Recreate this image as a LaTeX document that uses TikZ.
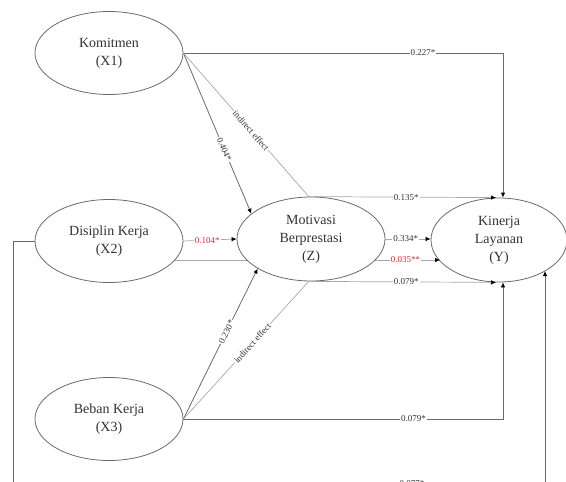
\documentclass[tikz,border=0pt]{standalone}
\usepackage{fontspec}
\setmainfont{Liberation Serif}
\usetikzlibrary{arrows.meta,shapes.geometric}
\definecolor{ln}{HTML}{6A6A6A}
\definecolor{lt}{HTML}{A8A8A8}
\definecolor{txt}{HTML}{333333}
\definecolor{rd}{HTML}{D03030}
\begin{document}
\begin{tikzpicture}[x=1pt,y=-1pt,
  var/.style={ellipse,draw=ln,fill=white,line width=0.8pt,minimum width=148pt,minimum height=83pt,inner sep=0pt,align=center,font=\fontsize{14}{18}\selectfont,text=txt},
  con/.style={draw=ln,line width=0.8pt},
  ind/.style={draw=lt,line width=0.7pt},
  tip/.style={-{Latex[length=5pt,width=4.5pt,color=black]}},
  lab/.style={fill=white,inner sep=1pt,font=\fontsize{9}{10}\selectfont,text=txt},
  rlab/.style={lab,text=rd},
]
\useasboundingbox (0,0) rectangle (566,482);
\clip (0,0) rectangle (566,482);

\node[var] (X1) at (109,53) {Komitmen\\(X1)};
\node[var] (X2) at (109,241) {Disiplin Kerja\\(X2)};
\node[var] (X3) at (109,419) {Beban Kerja\\(X3)};
\node[var,minimum width=136pt,minimum height=84pt] (Y) at (499,240) {Kinerja\\Layanan\\(Y)};

% X2 -> Y passing behind Z
\draw[ind,tip] (X2.-16) -- (X2.-16 -| Y.200) node[rlab,pos=0.87] {0.035**};

\node[var,minimum height=84pt] (Z) at (311,239) {Motivasi\\Berprestasi\\(Z)};

% coordinates for corners
\coordinate (c1) at (503,53);
\coordinate (c3) at (503,419);
\coordinate (l1) at (13,241);
\coordinate (l2) at (13,484);
\coordinate (r2) at (545,484);
\coordinate (r3) at (545,271);

% X1 -> Y direct
\draw[con,tip] (X1.east) -- (c1) node[lab,pos=0.75] {0.227*} -- (c1 |- Y.north);
% X1 -> Z
\draw[con,tip] (X1.east) -- (Z.157) node[lab,sloped,pos=0.6] {0.404*};
% X1 indirect effect
\draw[ind] (X1.east) -- (Z.93) node[lab,sloped,pos=0.54] {indirect effect};
\draw[ind,tip] (Z.93) -- ([xshift=-3pt]Y.north) node[lab,pos=0.52] {0.135*};

% X2 -> Z
\draw[ind,tip] (X2.east) -- (Z.west) node[rlab,pos=0.45] {0.104*};
% Z -> Y
\draw[ind,tip] (Z.east) -- (Z.east -| Y.west) node[lab,pos=0.45] {0.334*};

% X3 -> Z
\draw[con,tip] (X3.east) -- (Z.209) node[lab,sloped,pos=0.58] {0.230*};
% X3 indirect effect
\draw[ind] (X3.east) -- (Z.267) node[lab,sloped,pos=0.55] {indirect effect};
\draw[ind,tip] (Z.267) -- ([xshift=-3pt]Y.south) node[lab,pos=0.52] {0.079*};
% X3 -> Y direct
\draw[con,tip] (X3.east) -- (c3) node[lab,pos=0.72] {0.079*} -- (c3 |- Y.south);

% X2 -> Y around the bottom
\draw[con,tip] (X2.west) -- (l1) -- (l2) -- (r2) node[lab,pos=0.75] {0.077*} -- (r3);
\end{tikzpicture}
\end{document}
